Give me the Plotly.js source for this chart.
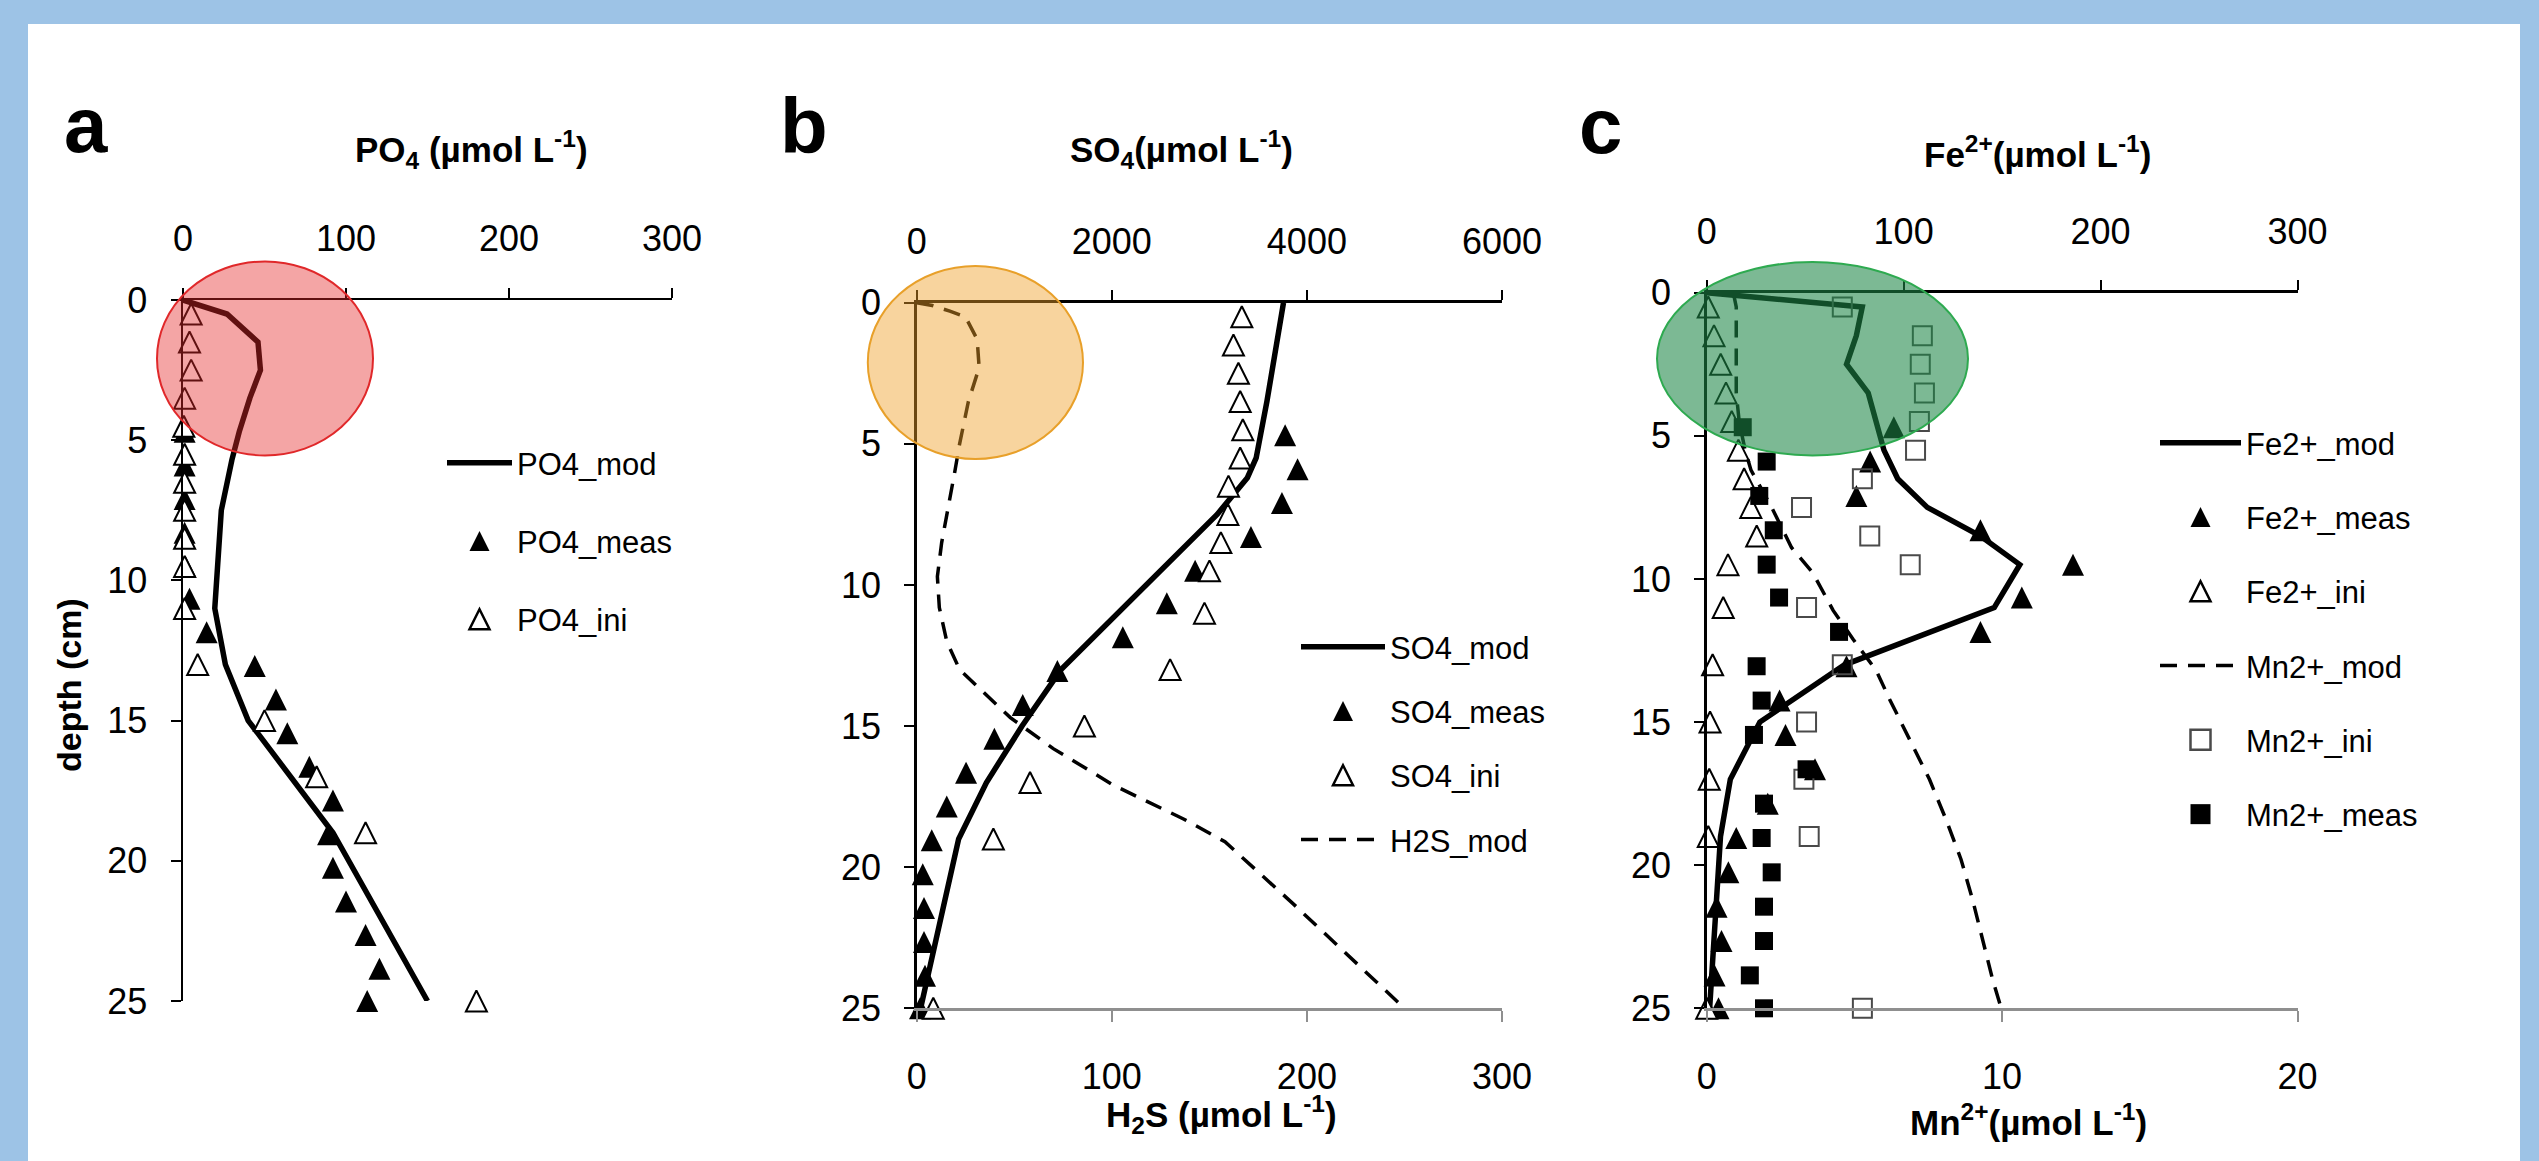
<!DOCTYPE html>
<html>
<head>
<meta charset="utf-8">
<script src="https://cdn.plot.ly/plotly-3.0.1.min.js"></script>
<style>
html,body{margin:0;padding:0;background:#9DC3E6;overflow:hidden;}
#chart{width:2539px;height:1161px;}
</style>
</head>
<body>
<div id="chart"></div>
<script>
// ---------------- DATA ----------------
// shared depths (cm)
const depthMeas = [4.7, 5.9, 7.1, 8.3, 9.5, 10.65, 11.85, 13.05, 14.25, 15.45, 16.65, 17.85, 19.05, 20.25, 21.45, 22.65, 23.85, 25.0];
const depthIni  = [0.5, 1.5, 2.5, 3.5, 4.5, 5.5, 6.5, 7.5, 8.5, 9.5, 11, 13, 15, 17, 19, 25];

// panel a : PO4 (umol/L)
const depthPO4mod = [0, 0.2, 0.5, 1.5, 2.5, 3.5, 4.7, 5.7, 7.5, 11, 13, 15, 19, 25];
const PO4_mod  = [0, 12, 27, 46, 47.5, 41, 34.5, 30, 23.5, 19.5, 26, 40, 92, 150];
const PO4_meas = [1, 1, 1, 1, 1.5, 4, 14.5, 44, 57, 64, 77.5, 92, 89, 92, 100, 112, 120.5, 113];
const PO4_ini  = [5, 4, 5, 1, 0.5, 1, 1, 1, 1, 1, 1, 9, 50, 82, 112, 180];

// panel b : SO4 (umol/L) and H2S (umol/L)
const depthSO4mod = [0, 1.5, 3.5, 5.5, 6.2, 7.5, 11, 13, 15, 17, 19, 25];
const SO4_mod  = [3760, 3690, 3590, 3480, 3390, 3080, 2060, 1480, 1080, 715, 430, 40];
const SO4_meas = [3777, 3904, 3744, 3426, 2854, 2564, 2113, 1442, 1087, 796, 506, 308, 154, 62, 75, 75, 85, 34];
const SO4_ini  = [3333, 3247, 3298, 3316, 3343, 3316, 3196, 3190, 3118, 3001, 2950, 2598, 1719, 1162, 786, 170];
const depthH2Smod = [0, 0.1, 0.3, 0.5, 1.3, 2.3, 3.5, 5, 6, 7.5, 8.5, 9.7, 10.8, 12, 13, 14.7, 15.8, 17.1, 18.3, 19.1, 21.3, 25];
const H2S_mod  = [0, 8, 17, 25, 31, 32, 26.5, 22, 19.5, 15.5, 12.8, 10.6, 11.6, 15.4, 22, 48, 70, 101, 137, 158, 193, 250];

// panel c : Fe2+ (umol/L) and Mn2+ (umol/L)
const depthFemod = [0, 0.5, 1.5, 2.5, 3.5, 4.5, 5.5, 6.5, 7.5, 8.5, 9.5, 11, 13, 15, 17, 19, 25];
const Fe_mod  = [0, 79, 76, 71, 82, 86, 90, 97, 112, 139, 159, 146, 70, 27, 12, 7, 1.5];
const Fe_meas = [95, 83, 76, 139, 186, 160, 139, 71, 37, 40, 55, 31, 15, 11, 5, 7.5, 4, 6];
const Fe_ini  = [0.8, 3.7, 7.1, 9.8, 12.7, 16.1, 19, 22.4, 25.4, 10.8, 8.4, 3, 1.7, 1.3, 0.8, 0];
const depthMnmod = [0, 0.5, 3.5, 4.5, 5.5, 6.2, 7.5, 8.9, 9.8, 11.1, 12.1, 13.2, 14.2, 15.6, 17, 18.4, 19.8, 21.2, 22.6, 24, 25];
const Mn_mod  = [0.9, 1.0, 1.0, 1.1, 1.3, 1.5, 2.2, 2.87, 3.6, 4.28, 4.95, 5.74, 6.19, 6.87, 7.54, 8.1, 8.61, 9.0, 9.34, 9.68, 9.97];
const Mn_ini  = [4.59, 7.3, 7.23, 7.37, 7.2, 7.07, 5.27, 3.21, 5.52, 6.89, 3.38, 4.59, 3.38, 3.29, 3.47, 5.27];
const Mn_meas = [1.22, 2.03, 1.78, 2.27, 2.03, 2.45, 4.48, 1.69, 1.86, 1.6, 3.38, 1.94, 1.86, 2.2, 1.94, 1.94, 1.46, 1.94];

// axis tick labels
const depthTicks = [0, 5, 10, 15, 20, 25];

// ---------------- LAYOUT HELPERS ----------------
const W = 2539, H = 1161;
const fx = p => p / W;
const fy = p => 1 - p / H;
const FONT = 'Liberation Sans, Arial, sans-serif';
const tickFont = {family: FONT, size: 36, color: '#000'};

function xTop(range, dtick, dom, anchor) {
  return {range: range, dtick: dtick, tick0: 0, domain: dom, anchor: anchor, side: 'top',
    showline: true, linecolor: '#000', linewidth: 2.5, ticks: 'outside', ticklen: 10, tickwidth: 2,
    tickcolor: '#000', showgrid: false, zeroline: false, tickfont: tickFont, ticklabelstandoff: 22,
    fixedrange: true};
}
function xBottom(range, dtick, over, anchor) {
  return {range: range, dtick: dtick, tick0: 0, overlaying: over, anchor: anchor, side: 'bottom',
    showline: true, linecolor: '#8f8f8f', linewidth: 2.5, ticks: 'outside', ticklen: 11, tickwidth: 2,
    tickcolor: '#8f8f8f', showgrid: false, zeroline: false, tickfont: tickFont, ticklabelstandoff: 24,
    fixedrange: true};
}
function yAx(dom, anchor) {
  return {range: [25, 0], tickvals: depthTicks, domain: dom, anchor: anchor, side: 'left',
    showline: true, linecolor: '#000', linewidth: 2.5, ticks: 'outside', ticklen: 10, tickwidth: 2,
    tickcolor: '#000', showgrid: false, zeroline: false, tickfont: tickFont, ticklabelstandoff: 16,
    fixedrange: true};
}

// upward triangle centred on the point (arrow-down flipped by 180 deg + standoff)
function triMarker(size, filled) {
  return {symbol: 'arrow-down', angle: 180, standoff: size / 2, size: size,
    color: filled ? '#000' : '#fff',
    line: {color: '#000', width: filled ? 0 : 2}};
}
const sqFilled = {symbol: 'square', size: 18, color: '#000', line: {width: 0}};
const sqOpen = {symbol: 'square-open', size: 19, color: '#4a4a4a', line: {color: '#4a4a4a', width: 2}};
const modLine = {color: '#000', width: 5.5};
const dashLine = {color: '#000', width: 3.5, dash: '17px,11px'};

function tr(name, x, y, xa, ya, leg, kind, extra) {
  const t = {type: 'scatter', name: name, x: x, y: y, xaxis: xa, yaxis: ya, legend: leg,
    legendgroup: name, cliponaxis: false, hoverinfo: 'skip'};
  if (kind === 'line') { t.mode = 'lines'; t.line = extra; }
  else { t.mode = 'markers'; t.marker = extra; }
  return t;
}

const data = [
  // panel a
  tr('PO4_mod', PO4_mod, depthPO4mod, 'x', 'y', 'legend', 'line', modLine),
  tr('PO4_meas', PO4_meas, depthMeas, 'x', 'y', 'legend', 'mk', triMarker(22, true)),
  tr('PO4_ini', PO4_ini, depthIni, 'x', 'y', 'legend', 'mk', triMarker(21, false)),
  // panel b
  tr('SO4_mod', SO4_mod, depthSO4mod, 'x2', 'y2', 'legend2', 'line', modLine),
  tr('SO4_meas', SO4_meas, depthMeas, 'x2', 'y2', 'legend2', 'mk', triMarker(22, true)),
  tr('SO4_ini', SO4_ini, depthIni, 'x2', 'y2', 'legend2', 'mk', triMarker(21, false)),
  tr('H2S_mod', H2S_mod, depthH2Smod, 'x3', 'y2', 'legend2', 'line', dashLine),
  // panel c
  tr('Fe2+_mod', Fe_mod, depthFemod, 'x4', 'y3', 'legend3', 'line', modLine),
  tr('Fe2+_meas', Fe_meas, depthMeas, 'x4', 'y3', 'legend3', 'mk', triMarker(22, true)),
  tr('Fe2+_ini', Fe_ini, depthIni, 'x4', 'y3', 'legend3', 'mk', triMarker(21, false)),
  tr('Mn2+_mod', Mn_mod, depthMnmod, 'x5', 'y3', 'legend3', 'line', dashLine),
  tr('Mn2+_ini', Mn_ini, depthIni, 'x5', 'y3', 'legend3', 'mk', sqOpen),
  tr('Mn2+_meas', Mn_meas, depthMeas, 'x5', 'y3', 'legend3', 'mk', sqFilled)
];

function legendAt(leftPx, topPx, itemw, gap) {
  return {x: fx(leftPx), y: fy(topPx), xanchor: 'left', yanchor: 'top', xref: 'paper', yref: 'paper',
    bgcolor: 'rgba(0,0,0,0)', borderwidth: 0, itemwidth: itemw, traceorder: 'grouped',
    tracegroupgap: gap, font: {family: FONT, size: 31, color: '#000'}};
}

function ann(text, xp, yp, size, angle) {
  return {text: text, x: fx(xp), y: fy(yp), xref: 'paper', yref: 'paper', xanchor: 'center',
    yanchor: 'middle', showarrow: false, textangle: angle || 0,
    font: {family: FONT, size: size, color: '#000'}};
}

function ellipse(x0, x1, y0, y1, fill, line) {
  return {type: 'circle', xref: 'paper', yref: 'paper', x0: fx(x0), x1: fx(x1), y0: fy(y1), y1: fy(y0),
    fillcolor: fill, line: {color: line, width: 2}, layer: 'above'};
}

const layout = {
  width: W, height: H, autosize: false,
  margin: {l: 0, r: 0, t: 0, b: 0, pad: 0},
  paper_bgcolor: '#9DC3E6', plot_bgcolor: 'rgba(0,0,0,0)',
  showlegend: true,
  xaxis: xTop([0, 300], 100, [fx(183), fx(672)], 'y'),
  yaxis: yAx([fy(1001), fy(300)], 'x'),
  xaxis2: xTop([0, 6000], 2000, [fx(916.7), fx(1502)], 'y2'),
  xaxis3: xBottom([0, 300], 100, 'x2', 'y2'),
  yaxis2: yAx([fy(1008.3), fy(302.7)], 'x2'),
  xaxis4: xTop([0, 300], 100, [fx(1706.7), fx(2297.5)], 'y3'),
  xaxis5: xBottom([0, 20], 10, 'x4', 'y3'),
  yaxis3: yAx([fy(1008.3), fy(292.7)], 'x4'),
  legend: legendAt(442, 436, 65, 35),
  legend2: legendAt(1296, 620, 84, 21),
  legend3: legendAt(2155, 416, 81, 31),
  shapes: [
    {type: 'rect', xref: 'paper', yref: 'paper', x0: fx(28), x1: fx(2520), y0: 0, y1: fy(24),
      fillcolor: '#ffffff', line: {width: 0}, layer: 'below'},
    ellipse(157, 373, 261.4, 455.4, 'rgba(228,40,40,0.42)', '#E0282A'),
    ellipse(867.8, 1083, 266, 459, 'rgba(240,160,40,0.45)', '#E8A02A'),
    ellipse(1657, 1968, 262, 455.4, 'rgba(30,135,70,0.58)', '#2EAA50')
  ],
  annotations: [
    ann('<b>a</b>', 85.5, 125, 78),
    ann('<b>b</b>', 803.5, 126, 78),
    ann('<b>c</b>', 1600, 126, 78),
    ann('<b>PO<sub>4</sub> (µmol L<sup>-1</sup>)</b>', 471, 150, 35),
    ann('<b>SO<sub>4</sub>(µmol L<sup>-1</sup>)</b>', 1181, 150, 35),
    ann('<b>Fe<sup>2+</sup>(µmol L<sup>-1</sup>)</b>', 2037.5, 152, 35),
    ann('<b>H<sub>2</sub>S (µmol L<sup>-1</sup>)</b>', 1221.5, 1114, 35),
    ann('<b>Mn<sup>2+</sup>(µmol L<sup>-1</sup>)</b>', 2028, 1120, 35),
    ann('<b>depth (cm)</b>', 69, 685, 34, -90)
  ]
};

Plotly.newPlot('chart', data, layout, {staticPlot: true, displayModeBar: false}).then(function (gd) {
  // centre and slightly enlarge the legend symbols so they sit level with their labels
  gd.querySelectorAll('g.legendpoints path.scatterpts').forEach(function (p) {
    const b = p.getBBox();
    const cy = b.y + b.height / 2;
    const t = p.getAttribute('transform') || '';
    p.setAttribute('transform', t + ' scale(1.25) translate(0,' + (-cy).toFixed(2) + ')');
  });
});
</script>
</body>
</html>
